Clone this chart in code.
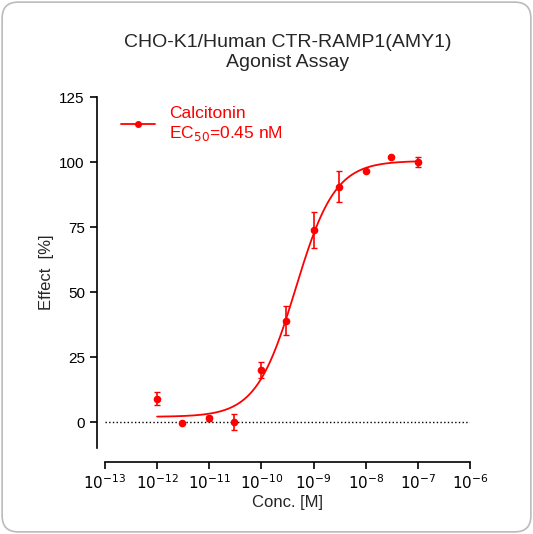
import numpy as np, pandas as pd, seaborn as sns, matplotlib
matplotlib.use("Agg")
import matplotlib.pyplot as plt
from matplotlib.patches import FancyBboxPatch

conc = [1e-12, 3e-12, 1e-11, 3e-11, 1e-10, 3e-10, 1e-9, 3e-9, 1e-8, 3e-8, 1e-7]
effect = [9, -0.5, 1.5, 0, 20, 39, 74, 90.5, 96.5, 102, 100]
err = [2.5, 0, 1, 3, 3, 5.5, 7, 6, 0, 0, 2]
bottom, top, ec50, hill = 2.0, 100.5, 0.45e-9, 1.15

sns.set_theme(style="ticks")
plt.rcParams['font.family'] = ['Liberation Sans', 'DejaVu Sans']
fig = plt.figure(figsize=(5.33, 5.34), dpi=100)
fig.patch.set_facecolor('white')
bg = FancyBboxPatch((0.004, 0.004), 0.992, 0.992, boxstyle="round,pad=0,rounding_size=0.03",
                    transform=fig.transFigure, fc='white', ec='#bbbbbb', lw=1.2, zorder=-10)
fig.patches.append(bg)
ax = fig.add_axes([0.197, 0.161, 0.685, 0.657])
ax.set_zorder(1)
ax.set_facecolor('none')
red = '#ff0000'
xf = np.logspace(-12, -7, 300)
yf = bottom + (top - bottom) / (1 + (ec50 / xf) ** hill)
df = pd.DataFrame({'x': xf, 'y': yf})
sns.lineplot(data=df, x='x', y='y', color=red, lw=1.3, ax=ax)
ax.errorbar(conc, effect, yerr=err, fmt='o', color=red, ms=4.5, capsize=2.5, elinewidth=1.2)
ax.plot([], [], '-o', color=red, ms=4, lw=1.3, label='Calcitonin\nEC$_{50}$=0.45 nM')
ax.axhline(0, color='black', ls=':', lw=1, xmin=0.0, xmax=1)
ax.set_xscale('log')
ax.set_xlim(1e-13, 1e-6)
ax.set_ylim(-10, 125)
ax.set_yticks([0, 25, 50, 75, 100, 125])
ax.set_xticks([10.0**k for k in range(-13, -5)])
ax.set_xticklabels([f'$10^{{{k}}}$' for k in range(-13, -5)])
ax.xaxis.set_minor_locator(matplotlib.ticker.NullLocator())
for s in ['top', 'right']:
    ax.spines[s].set_visible(False)
ax.spines['bottom'].set_position(('outward', 10))
ax.spines['left'].set_position(('outward', 6))
ax.spines['left'].set_bounds(-10, 125)
for s in ['bottom', 'left']:
    ax.spines[s].set_linewidth(1.2)
    ax.spines[s].set_color('black')
ax.tick_params(labelsize=11, width=1.2, length=5, colors='black')
ax.set_xlabel('Conc. [M]', fontsize=12, labelpad=2)
ax.set_ylabel('Effect  [%]', fontsize=12)
ax.set_title('CHO-K1/Human CTR-RAMP1(AMY1)\nAgonist Assay', fontsize=14, pad=22)
leg = ax.legend(loc='upper left', bbox_to_anchor=(0.0, 1.02), frameon=False, fontsize=12.5,
                handlelength=2, labelcolor=red)
fig.savefig('out.png', dpi=100)
